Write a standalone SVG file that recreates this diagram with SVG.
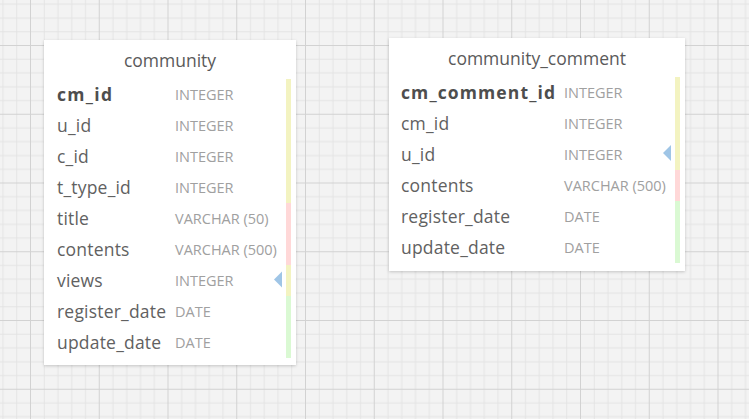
<svg xmlns="http://www.w3.org/2000/svg" width="749" height="419" viewBox="0 0 749 419">
<style>
.title{font-family:"Open Sans","Liberation Sans",sans-serif;font-size:17.5px;fill:#5a5a5a;text-anchor:middle}
.nm{font-family:"Open Sans","Liberation Sans",sans-serif;font-size:17.5px;fill:#616161;letter-spacing:0.2px}
.pk{font-family:"Open Sans","Liberation Sans",sans-serif;font-size:17.5px;font-weight:bold;fill:#4e4e4e}
.ty{font-family:"Open Sans","Liberation Sans",sans-serif;font-size:14.5px;fill:#a0a0a0}
.box{fill:#fff;filter:url(#sh)}
.y{fill:#f3f3c1}
.p{fill:#ffd8d8}
.g{fill:#daf9d3}
.fk{fill:#9fc5e6}
</style>
<defs>
<pattern id="grid" patternUnits="userSpaceOnUse" x="30" y="45" width="68.75" height="68.75">
<rect width="68.75" height="68.75" fill="#f3f3f3"/>
<path d="M14.25 0V68.75M28 0V68.75M41.75 0V68.75M55.5 0V68.75M0 14.25H68.75M0 28H68.75M0 41.75H68.75M0 55.5H68.75" stroke="#e4e4e4" stroke-width="1" fill="none"/>
<path d="M0.5 0V68.75M0 0.5H68.75" stroke="#d2d2d2" stroke-width="1" fill="none"/>
</pattern>
<filter id="sh" x="-10%" y="-10%" width="120%" height="120%">
<feDropShadow dx="0" dy="1" stdDeviation="1.5" flood-color="#000" flood-opacity="0.2"/>
</filter>
</defs>
<rect width="749" height="419" fill="url(#grid)"/>
<g id="connectors"></g>
<g id="community">
<rect class="box" x="44" y="40" width="252" height="325"/>
<text class="title" x="170" y="66.5">community</text>
<rect class="y" x="286" y="79" width="5" height="124"/>
<rect class="p" x="286" y="203" width="5" height="62"/>
<rect class="y" x="286" y="265" width="5" height="31"/>
<rect class="g" x="286" y="296" width="5" height="62"/>
<polygon class="fk" points="274,279.5 282,271.5 282,287.5"/>
<text class="pk" x="57" y="100.5" textLength="55" lengthAdjust="spacing">cm_id</text>
<text class="nm" x="57" y="131.5">u_id</text>
<text class="nm" x="57" y="162.5">c_id</text>
<text class="nm" x="57" y="193.5">t_type_id</text>
<text class="nm" x="57" y="224.5">title</text>
<text class="nm" x="57" y="255.5">contents</text>
<text class="nm" x="57" y="286.5">views</text>
<text class="nm" x="57" y="317.5">register_date</text>
<text class="nm" x="57" y="348.5">update_date</text>
<text class="ty" x="175" y="100">INTEGER</text>
<text class="ty" x="175" y="131">INTEGER</text>
<text class="ty" x="175" y="162">INTEGER</text>
<text class="ty" x="175" y="193">INTEGER</text>
<text class="ty" x="175" y="224">VARCHAR (50)</text>
<text class="ty" x="175" y="255">VARCHAR (500)</text>
<text class="ty" x="175" y="286">INTEGER</text>
<text class="ty" x="175" y="317">DATE</text>
<text class="ty" x="175" y="348">DATE</text>
</g>
<g id="community_comment">
<rect class="box" x="389" y="38" width="296" height="233"/>
<text class="title" x="537" y="64.5">community_comment</text>
<rect class="y" x="675" y="77" width="5" height="93"/>
<rect class="p" x="675" y="170" width="5" height="31"/>
<rect class="g" x="675" y="201" width="5" height="62"/>
<polygon class="fk" points="663,153 671,145 671,161"/>
<text class="pk" x="401" y="98.5" textLength="154" lengthAdjust="spacing">cm_comment_id</text>
<text class="nm" x="401" y="129.5">cm_id</text>
<text class="nm" x="401" y="160.5">u_id</text>
<text class="nm" x="401" y="191.5">contents</text>
<text class="nm" x="401" y="222.5">register_date</text>
<text class="nm" x="401" y="253.5">update_date</text>
<text class="ty" x="564" y="98">INTEGER</text>
<text class="ty" x="564" y="129">INTEGER</text>
<text class="ty" x="564" y="160">INTEGER</text>
<text class="ty" x="564" y="191">VARCHAR (500)</text>
<text class="ty" x="564" y="222">DATE</text>
<text class="ty" x="564" y="253">DATE</text>
</g>
</svg>
